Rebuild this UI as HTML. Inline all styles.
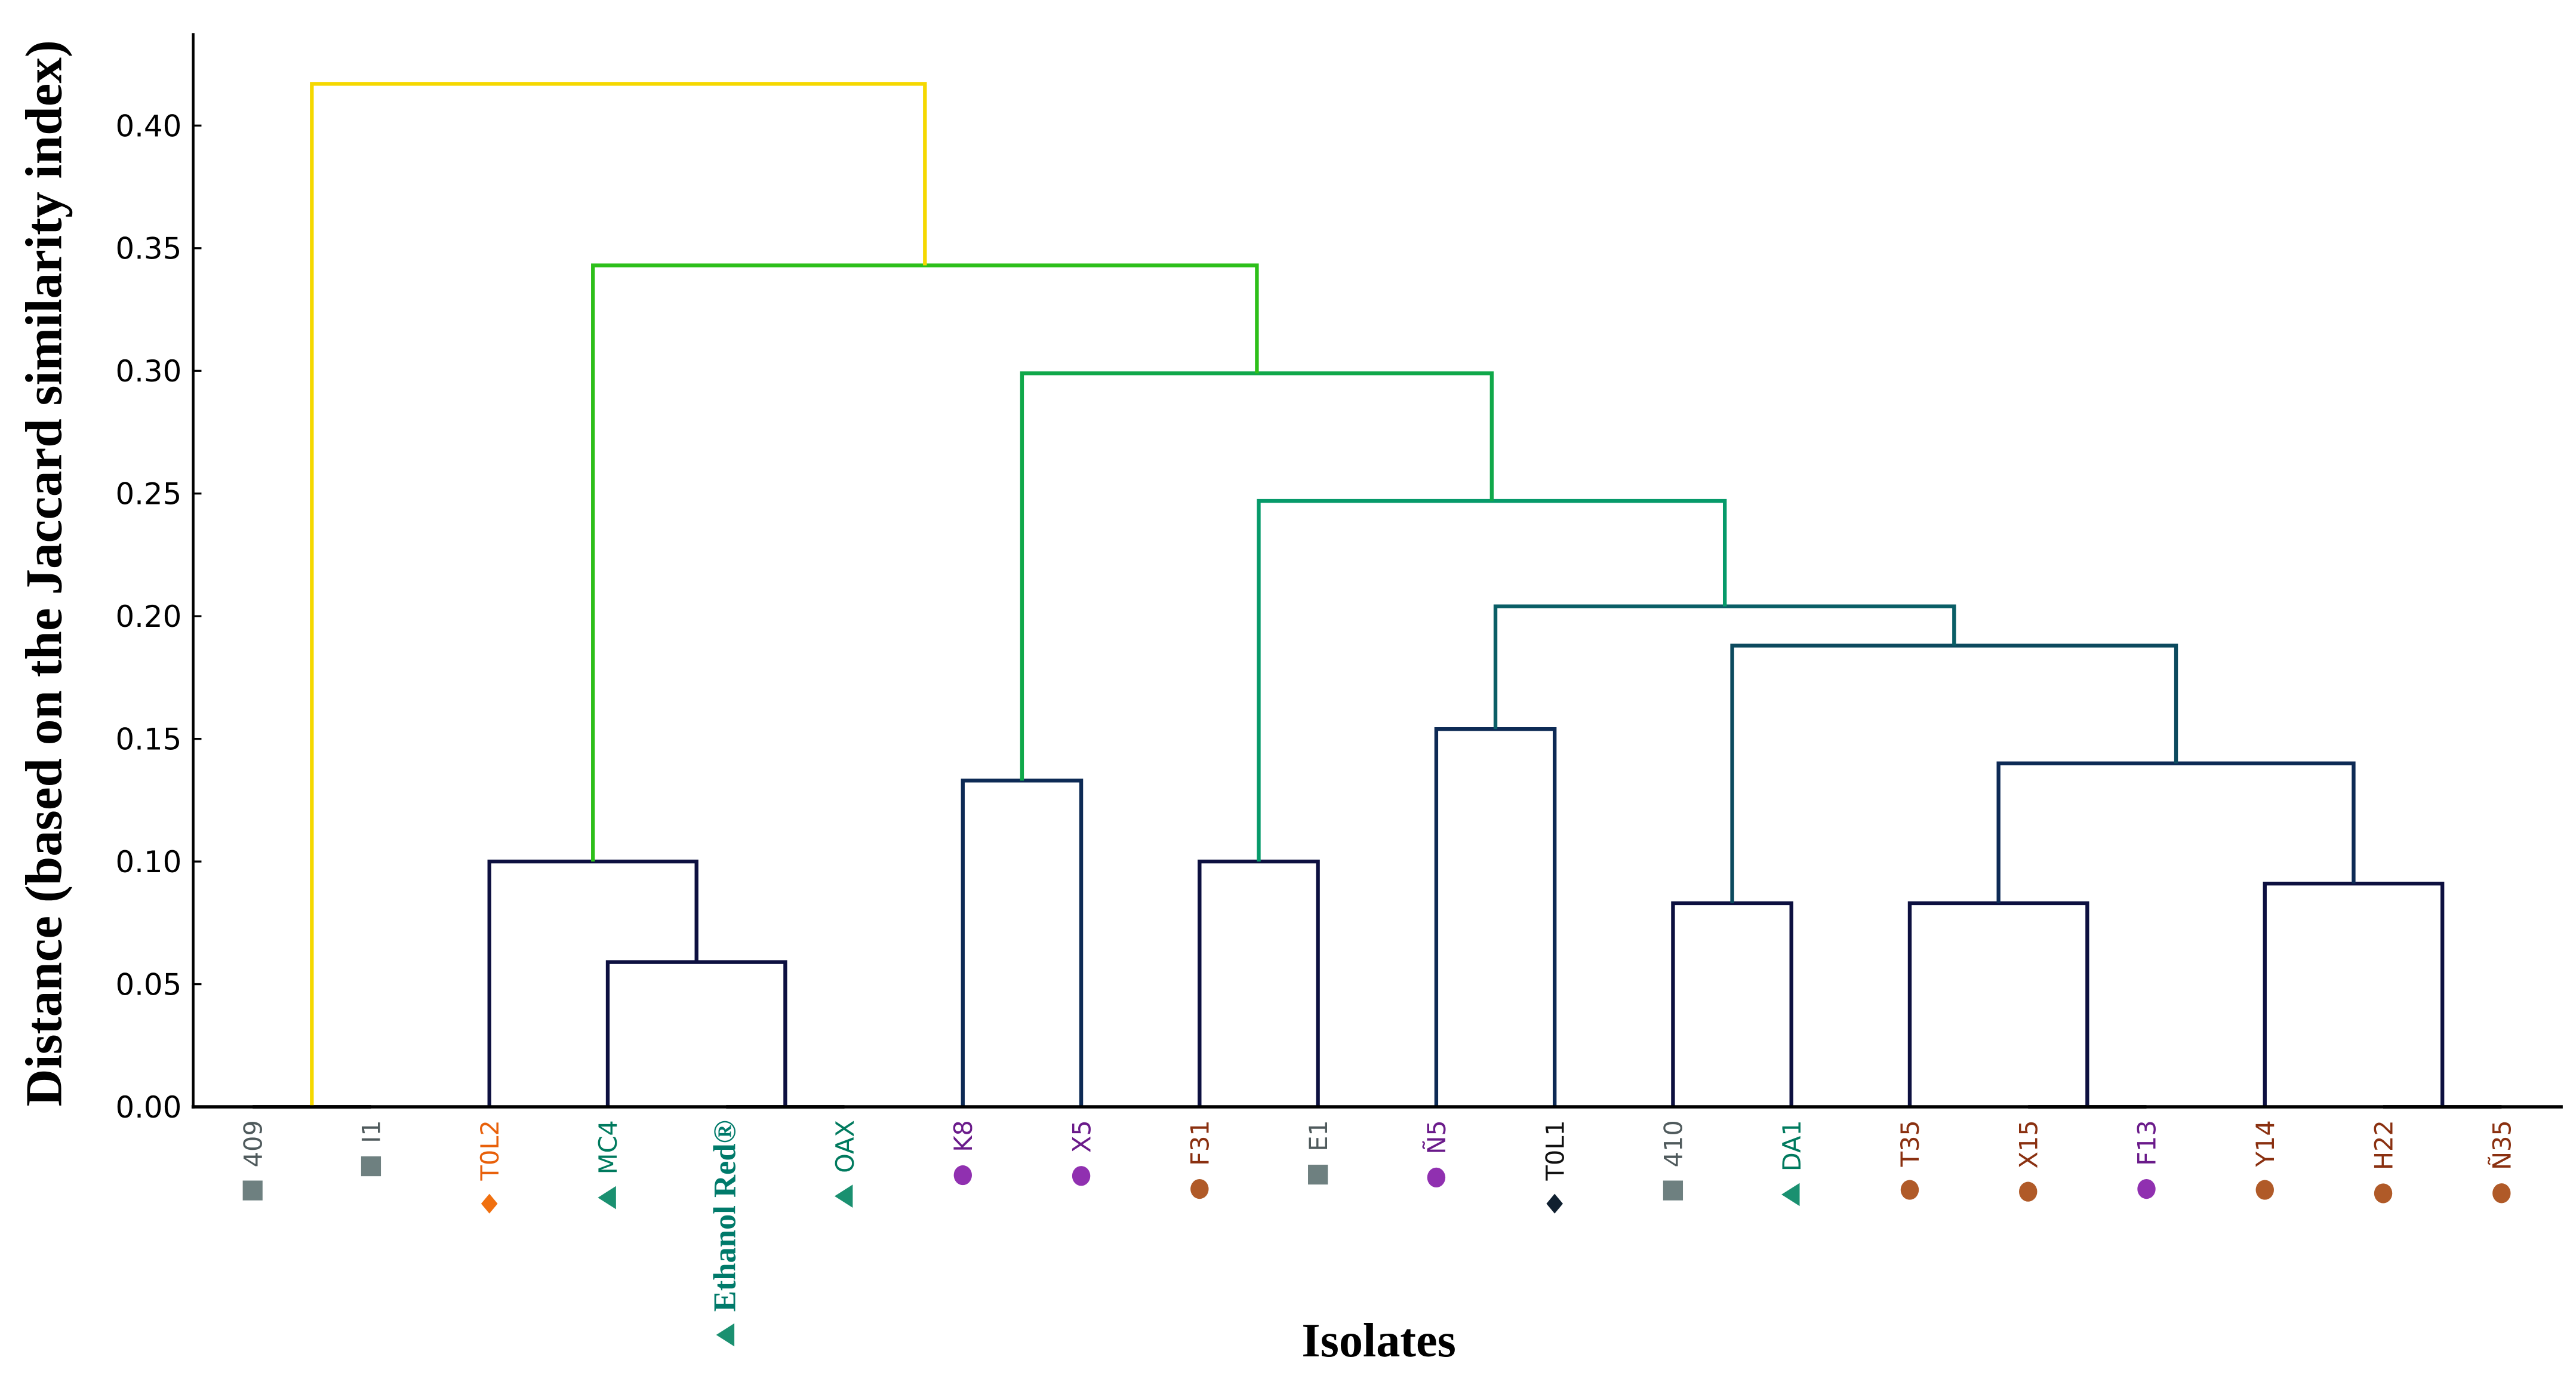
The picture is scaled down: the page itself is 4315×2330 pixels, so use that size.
<!DOCTYPE html>
<html><head><meta charset="utf-8">
<style>html,body{margin:0;padding:0;background:#fff;}svg{display:block;}</style>
</head><body>
<svg id="chart" width="4315" height="2330" viewBox="0 0 1560 842" preserveAspectRatio="none" xmlns="http://www.w3.org/2000/svg">
<rect width="1560" height="842" fill="#fff"/>
<g id="links"></g>
<g id="axes"></g>
<g id="labels"></g>
<text transform="translate(37,347) rotate(-90)" text-anchor="middle" font-family="Liberation Serif, serif" font-weight="bold" font-size="31.5">Distance (based on the Jaccard similarity index)</text>
<text x="835" y="821" text-anchor="middle" font-family="Liberation Serif, serif" font-weight="bold" font-size="29">Isolates</text>
</svg>
<script>
const leafNames = ["409","I1","T0L2","MC4","Ethanol Red®","OAX","K8","X5","F31","E1","Ñ5","T0L1","410","DA1","T35","X15","F13","Y14","H22","Ñ35"];
const leafColors = ["#4f5a5c","#4f5a5c","#e8600a","#007a5e","#007a6a","#007a5e","#6a1a8a","#6a1a8a","#8a3010","#4f5a5c","#6a1a8a","#111111","#4f5a5c","#007a5e","#8a3010","#8a3010","#6a1a8a","#8a3010","#8a3010","#8a3010"];
const leafMarkers = ["square","square","diamond","triangle","triangle","triangle","circle","circle","circle","square","circle","diamond","square","triangle","circle","circle","circle","circle","circle","circle"];
const markerColors = ["#6e8080","#6e8080","#f07010","#1a9070","#1a9070","#1a9070","#9030b0","#9030b0","#b05a28","#6e8080","#9030b0","#102030","#6e8080","#1a9070","#b05a28","#b05a28","#9030b0","#b05a28","#b05a28","#b05a28"];
const linkLeft   = [0,4,3,2,6,8,10,12,15,14,18,17,29,27,26,25,24,23,20];
const linkRight  = [1,5,21,22,7,9,11,13,16,28,19,30,31,32,33,34,35,36,37];
const linkHeight = [0,0,0.059,0.100,0.133,0.100,0.154,0.083,0,0.083,0,0.091,0.140,0.188,0.204,0.247,0.299,0.343,0.417];
const linkColors = ["#444","#444","#0d1040","#0d1040","#0d2a55","#0d1040","#0d2a55","#0d1040","#444","#0d1040","#444","#0d1040","#0d2a55","#0c4a5e","#0a5e66","#069a6a","#10a84a","#2dbf1a","#f5d800"];
const yTicks = [0,0.05,0.10,0.15,0.20,0.25,0.30,0.35,0.40];
const yTickLabels = ["0.00","0.05","0.10","0.15","0.20","0.25","0.30","0.35","0.40"];

const NS="http://www.w3.org/2000/svg";
const X0=153, DX=71.68, Y0=670, YPER=(670-76)/0.40;
function xLeaf(i){return X0+i*DX;}
function yScale(v){return Y0-v*YPER;}
function mk(tag,attrs,parent){const e=document.createElementNS(NS,tag);for(const k in attrs)e.setAttribute(k,attrs[k]);parent.appendChild(e);return e;}

const linksG=document.getElementById('links');
const nodeX={}, nodeH={};
for(let i=0;i<leafNames.length;i++){nodeX[i]=xLeaf(i);nodeH[i]=0;}
const n=leafNames.length;
for(let k=0;k<linkLeft.length;k++){
  const a=linkLeft[k], b=linkRight[k], h=linkHeight[k];
  const xa=nodeX[a], xb=nodeX[b], ya=yScale(nodeH[a]), yb=yScale(nodeH[b]), yh=yScale(h);
  const p=mk('path',{d:`M${xa},${ya} L${xa},${yh} L${xb},${yh} L${xb},${yb}`,fill:'none',stroke:linkColors[k],'stroke-width':h===0?2.2:2.3},linksG);
  
  
  nodeX[n+k]=(xa+xb)/2; nodeH[n+k]=h;
}

const axesG=document.getElementById('axes');
const yAxis=mk('line',{x1:117,y1:20,x2:117,y2:671,stroke:'#000','stroke-width':1.6},axesG);


const xAxis=mk('line',{x1:116,y1:670,x2:1552,y2:670,stroke:'#000','stroke-width':2},axesG);


for(let i=0;i<yTicks.length;i++){
  const y=yScale(yTicks[i]);
  const t=mk('line',{x1:117,y1:y,x2:122,y2:y,stroke:'#000','stroke-width':1.2},axesG);
  
  
  const tl=mk('text',{x:110,y:y+6.5,'text-anchor':'end','font-family':'DejaVu Sans, Liberation Sans, sans-serif','font-size':18,fill:'#000'},axesG);
  tl.textContent=yTickLabels[i];
  
  
}

const labG=document.getElementById('labels');
for(let i=0;i<n;i++){
  const x=xLeaf(i), yTop=678;
  const bold=(leafNames[i]==="Ethanol Red®");
  const t=mk('text',{x:0,y:0,'text-anchor':'end','font-family':bold?'Liberation Serif, serif':'DejaVu Sans, Liberation Sans, sans-serif','font-weight':bold?'bold':'normal','font-size':bold?19:15,fill:leafColors[i],transform:`translate(${x+5.5},${yTop}) rotate(-90)`},labG);
  t.textContent=leafNames[i];
  
  
  let len=t.getComputedTextLength(); if(!len) len=leafNames[i].length*9;
  const my=yTop+len+14, c=markerColors[i];
  let m;
  if(leafMarkers[i]==='square') m=mk('rect',{x:x-6,y:my-6,width:12,height:12,fill:c},labG);
  else if(leafMarkers[i]==='circle') m=mk('ellipse',{cx:x,cy:my,rx:5.5,ry:6,fill:c},labG);
  else if(leafMarkers[i]==='diamond') m=mk('path',{d:`M${x},${my-6} L${x+5},${my} L${x},${my+6} L${x-5},${my} Z`,fill:c},labG);
  else m=mk('path',{d:`M${x-6},${my} L${x+5},${my-7} L${x+5},${my+7} Z`,fill:c},labG);
  
  
}
</script>
</body></html>
